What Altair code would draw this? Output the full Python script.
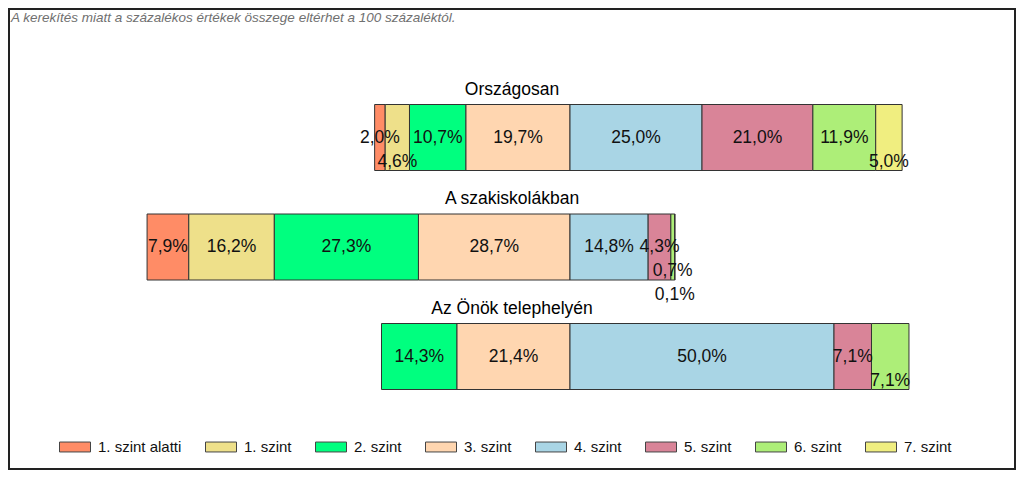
import altair as alt
import pandas as pd

# ---------------- data ----------------
categories = ["Országosan", "A szakiskolákban", "Az Önök telephelyén"]
levels = ["1. szint alatti", "1. szint", "2. szint", "3. szint",
          "4. szint", "5. szint", "6. szint", "7. szint"]
orszagos = [2.0, 4.6, 10.7, 19.7, 25.0, 21.0, 11.9, 5.0]
szakiskola = [7.9, 16.2, 27.3, 28.7, 14.8, 4.3, 0.7, 0.1]
telephely = [0.0, 0.0, 14.3, 21.4, 50.0, 7.1, 7.1, 0.0]
series = [orszagos, szakiskola, telephely]
colors = ["#FF8C66", "#EEE08A", "#00FF7F", "#FFD6B0",
          "#A9D5E5", "#D98498", "#ADEE78", "#F0EE80"]
note = "A kerekítés miatt a  százalékos értékek összege eltérhet a 100 százaléktól."

# ---------------- layout constants ----------------
W, H = 1006, 460
PX_PER = 5.28          # pixels per percent
ZERO_X = 561           # pixel position of the 3/4 boundary
STEP = 109.5           # pixel distance between bars
ROW0 = 128.5           # pixel centre of first bar
BAR_H = 66
FONT = 17.5
LEVEL_DY = 24

x_dom = [-ZERO_X / PX_PER, (W - ZERO_X) / PX_PER]
y_min = -ROW0 / STEP
y_dom = [y_min, y_min + H / STEP]


def fmt(v):
    return f"{v:.1f}".replace(".", ",") + "%"


def text_w(s):
    w = 0.0
    for ch in s:
        if ch.isdigit():
            w += 0.556
        elif ch == ",":
            w += 0.278
        elif ch == "%":
            w += 0.889
        else:
            w += 0.5
    return w * FONT


rows = []
for r, vals in enumerate(series):
    segs = []
    for i in range(8):
        v = vals[i]
        if i < 4:
            x0 = -sum(vals[i:4])
            x1 = -sum(vals[i + 1:4])
        else:
            x0 = sum(vals[4:i])
            x1 = sum(vals[4:i + 1])
        if v > 0:
            segs.append((i, v, x0, x1))
    placed = {}
    for i, v, x0, x1 in segs:
        lab = fmt(v)
        cx = ZERO_X + (x0 + x1) / 2 * PX_PER
        hw = text_w(lab) / 2 + 2
        lvl = 0
        while any(not (cx + hw <= a or cx - hw >= b) for a, b in placed.get(lvl, [])):
            lvl += 1
        placed.setdefault(lvl, []).append((cx - hw, cx + hw))
        rows.append({
            "cat": categories[r], "row": r, "level": levels[i], "order": i,
            "value": v, "x0": x0, "x1": x1, "xm": (x0 + x1) / 2,
            "ytop": r - BAR_H / 2 / STEP, "ybot": r + BAR_H / 2 / STEP,
            "ylab": r + lvl * LEVEL_DY / STEP, "label": lab,
        })
df = pd.DataFrame(rows)

titles = pd.DataFrame({
    "cat": categories,
    "row": list(range(len(categories))),
})
titles["tx"] = (W / 2 - ZERO_X) / PX_PER
titles["ty"] = titles["row"] - 48 / STEP

xs = alt.Scale(domain=x_dom, nice=False, zero=False)
ys = alt.Scale(domain=y_dom, nice=False, zero=False, reverse=True)

bars = alt.Chart(df).mark_bar(stroke="#333333", strokeWidth=1).encode(
    x=alt.X("x0:Q", scale=xs, axis=None),
    x2="x1:Q",
    y=alt.Y("ytop:Q", scale=ys, axis=None),
    y2="ybot:Q",
    color=alt.Color(
        "level:N",
        scale=alt.Scale(domain=levels, range=colors),
        legend=alt.Legend(
            title=None, orient="none", direction="horizontal",
            legendX=50, legendY=422, columns=8,
            symbolType="M-1,-0.32H1V0.32H-1Z", symbolSize=961,
            symbolStrokeColor="#444444", symbolStrokeWidth=1,
            labelFont="Liberation Sans", labelFontSize=15, labelColor="#111111",
            labelOffset=7, columnPadding=21, padding=0,
        ),
    ),
    order="order:Q",
)

labels = alt.Chart(df).mark_text(
    font="Liberation Sans", fontSize=FONT, color="#111111", baseline="middle", align="center"
).encode(
    x=alt.X("xm:Q", scale=xs, axis=None),
    y=alt.Y("ylab:Q", scale=ys, axis=None),
    text="label:N",
)

title_txt = alt.Chart(titles).mark_text(
    font="Liberation Sans", fontSize=17.5, color="#000000", baseline="middle", align="center"
).encode(
    x=alt.X("tx:Q", scale=xs, axis=None),
    y=alt.Y("ty:Q", scale=ys, axis=None),
    text="cat:N",
)

note_txt = alt.Chart(pd.DataFrame({"t": [note]})).mark_text(
    font="Liberation Sans", fontSize=13.5, fontStyle="italic", color="#707070",
    baseline="top", align="left"
).encode(x=alt.value(2), y=alt.value(2), text="t:N")

chart = alt.layer(bars, labels, title_txt, note_txt).properties(
    width=W, height=H, padding=1, autosize=alt.AutoSizeParams(type="none"),
    background="white",
).configure_view(stroke="#222222", strokeWidth=2)

chart.save("out.html", embed_options={"renderer": "svg", "actions": False})
